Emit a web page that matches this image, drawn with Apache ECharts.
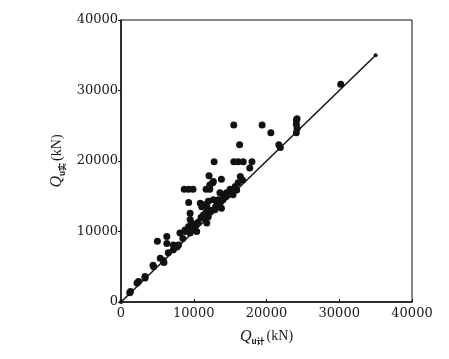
<!DOCTYPE html>
<html>
<head>
<meta charset="utf-8">
<script src="https://cdn.jsdelivr.net/npm/echarts@6/dist/echarts.min.js"></script>
<style>html,body{margin:0;padding:0;background:#fff;}#c{width:449px;height:359px;}</style>
</head>
<body>
<div id="c"></div>
<script>
// Q_u计 (kN) values
const qCalc = [1200,1300,2200,2400,3300,3300,4400,4500,5400,5800,5900,5000,6300,6300,7200,7700,7200,7900,8100,8800,8800,9500,9300,9500,9700,9900,10400,9500,9300,8700,9300,9900,10900,11100,11300,11600,11800,12000,11600,12000,11800,11700,12200,12200,12700,12100,12600,12800,12900,13200,13400,13600,13800,12700,13600,14100,14500,15000,15000,15400,15900,15700,16100,13800,16400,16700,15500,16100,16800,18000,17700,16300,15500,19400,20600,21700,21900,24100,24200,24100,24100,24200,30200,10200,10600,11000,11300,12500,14000,14500,10000,8500,6500,12300,13000];
// Q_u实 (kN) values
const qTest = [1300,1500,2700,2900,3400,3600,5200,5000,6200,5900,5600,8600,9300,8300,7400,7800,8100,8100,9800,10200,10000,9800,10700,11700,11200,10200,10000,12600,14100,16000,16000,16000,14000,13500,13800,12600,13500,14300,11700,12100,11200,16000,16000,16600,17100,17900,16900,19900,13100,13800,14500,14000,13300,14500,15500,15000,15500,15700,16000,15200,15900,16400,16900,17400,17800,17300,19900,19900,19900,19900,19000,22300,25100,25100,24000,22300,21900,24000,24600,25200,25800,26000,30900,10800,11300,12000,12300,13000,14500,15000,10500,9000,7000,12800,13500];
// 1:1 reference line
const lineX = [0,35000];
const lineY = [0,35000];
const axisTicks = [0,10000,20000,30000,40000];

const pts = qCalc.map((x,i)=>[x,qTest[i]]);
const linePts = lineX.map((x,i)=>[x,lineY[i]]);

const chart = echarts.init(document.getElementById('c'));
const labelFont = {fontFamily:'DejaVu Serif', fontSize:13, color:'#1a1a1a', formatter:(v)=>String(v)};
const rich = {
  q:{fontFamily:'Liberation Serif', fontStyle:'italic', fontSize:16, color:'#1a1a1a'},
  s:{fontFamily:'Noto Sans CJK SC', fontSize:8, color:'#1a1a1a', padding:[9,0,0,0], fontWeight:'bold'},
  n:{fontFamily:'Liberation Serif', fontSize:14, color:'#1a1a1a', padding:[0,0,0,2]}
};
chart.setOption({
  animation:false,
  grid:{left:121,right:37,top:20,bottom:57,show:true,borderColor:'#111',borderWidth:1},
  xAxis:{
    type:'value',min:axisTicks[0],max:axisTicks[axisTicks.length-1],interval:10000,
    name:'{q|Q}{s|u计}{n|(kN)}',nameLocation:'middle',nameGap:26,
    nameTextStyle:{rich:rich},
    axisLine:{lineStyle:{color:'#111',width:1.5}},
    axisTick:{inside:true,length:3,lineStyle:{color:'#111'}},
    axisLabel:Object.assign({margin:5},labelFont),
    splitLine:{show:false}
  },
  yAxis:{
    type:'value',min:axisTicks[0],max:axisTicks[axisTicks.length-1],interval:10000,
    name:'{q|Q}{s|u实}{n|(kN)}',nameLocation:'middle',nameGap:52,nameRotate:90,
    nameTextStyle:{rich:rich},
    axisLine:{lineStyle:{color:'#111',width:1.5}},
    axisTick:{inside:false,length:3,lineStyle:{color:'#111'}},
    axisLabel:Object.assign({margin:3},labelFont),
    splitLine:{show:false}
  },
  series:[
    {type:'line',data:linePts,symbol:'circle',symbolSize:4,showSymbol:true,
     itemStyle:{color:'#111'},lineStyle:{color:'#111',width:1.5},z:3},
    {type:'scatter',data:pts,symbol:'circle',symbolSize:7,itemStyle:{color:'#111',opacity:1},z:2}
  ]
});
</script>
</body>
</html>
